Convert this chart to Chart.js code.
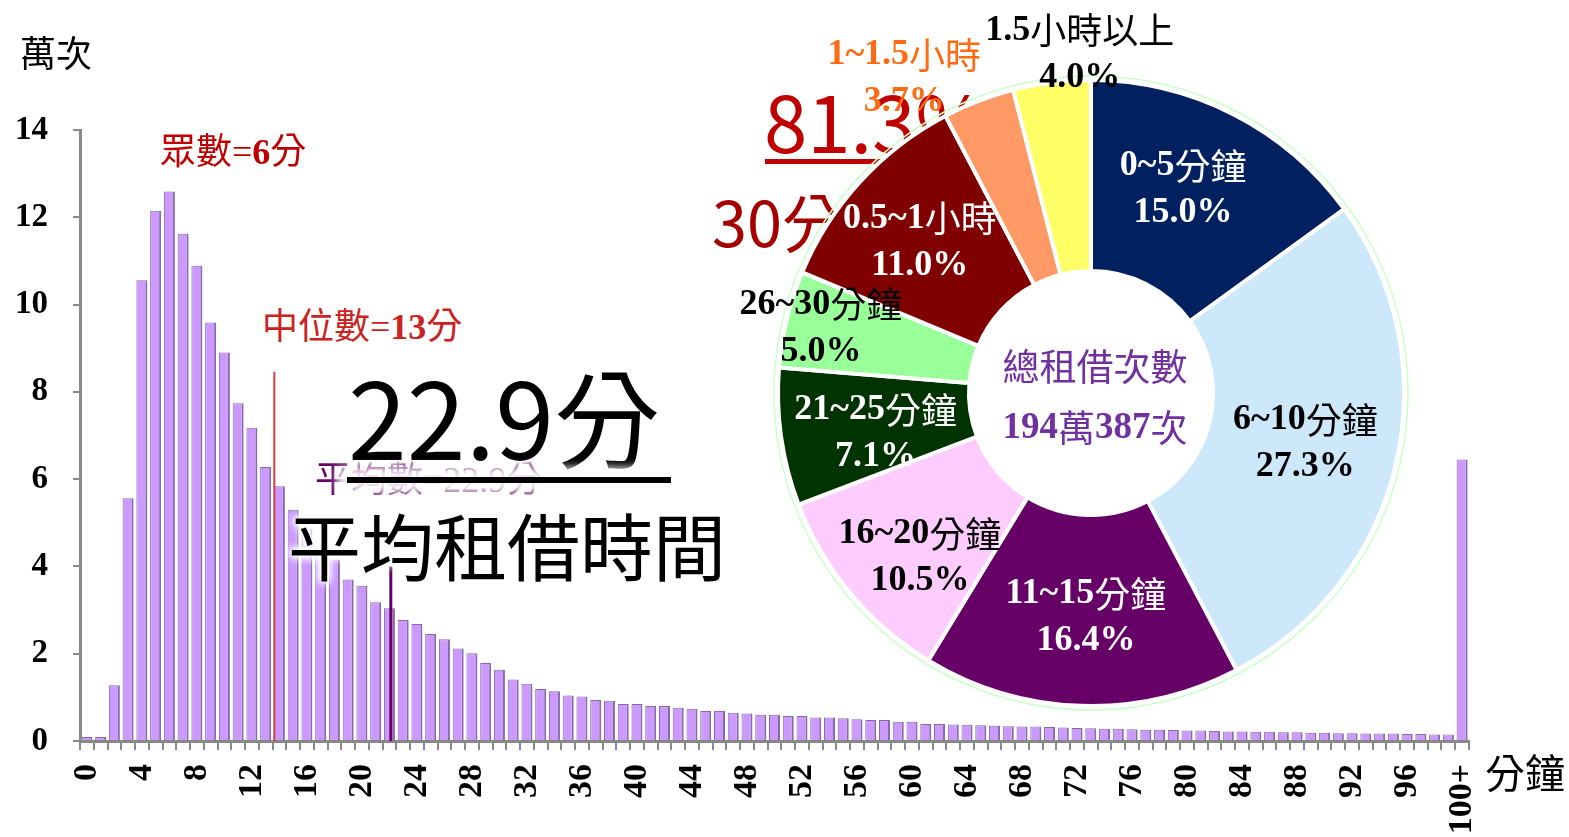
<!DOCTYPE html>
<html lang="zh-Hant">
<head>
<meta charset="UTF-8">
<style>
body {
    margin: 0;
    width: 1569px;
    height: 837px;
    overflow: hidden;
    position: relative;
    background: #fff;
    font-family: "Liberation Serif", "Noto Sans CJK TC", serif;
}
canvas {
    position: absolute;
    left: 0;
    top: 0;
}
#histChart { z-index: 1; }
#pieChart { z-index: 3; }
.txt {
    position: absolute;
    white-space: nowrap;
    line-height: 1;
}
.back { z-index: 2; }
.front { z-index: 4; }
.sans { font-family: "Noto Sans CJK TC", "Noto Sans", sans-serif; }
.glow {
    text-shadow: 0 0 4px #fff, 0 0 6px #fff, 0 0 8px #fff, 0 0 10px #fff, 0 0 12px #fff;
}
</style>
</head>
<body>
<canvas id="histChart" width="1569" height="837"></canvas>

<!-- big red note sits behind the doughnut -->
<div class="txt back sans" style="left:764px; top:80px; font-size:78px; color:#c00000;">81.3%</div>
<div class="txt back" style="left:765px; top:159px; width:200px; height:5px; background:#c00000;"></div>
<div class="txt back sans" style="left:712px; top:188px; font-size:63px; color:#a50000;">30分</div>

<canvas id="pieChart" width="1569" height="837"></canvas>

<div class="txt front" style="left:20px; top:37px; font-size:36px; color:#000;">萬次</div>
<div class="txt front" style="left:1485px; top:755px; font-size:40px; color:#000;">分鐘</div>
<div class="txt front" style="left:160px; top:134px; font-size:36px; color:#c00000;">眾數=<b>6</b>分</div>
<div class="txt front" style="left:258px; top:307px; font-size:36px; color:#cc2222; background:#fff; padding:2px 4px;">中位數=<b>13</b>分</div>
<div class="txt front" style="left:315px; top:462px; font-size:36px; color:#660066;">平均數=22.9分</div>
<div class="txt front sans glow" style="left:348px; top:361px; font-size:106px; color:#000;">22.9分</div>
<div class="txt front" style="left:347px; top:477px; width:324px; height:6px; background:#000; box-shadow:0 0 9px 10px rgba(255,255,255,0.9);"></div>
<div class="txt front sans glow" style="left:288px; top:507px; font-size:73px; color:#000;">平均租借時間</div>

<script src="https://cdn.jsdelivr.net/npm/chart.js"></script>
<script>
// histogram: rentals (10k) per rental length in minutes
const minuteLabels = [
    '0', '1', '2', '3', '4', '5', '6', '7', '8', '9',
    '10', '11', '12', '13', '14', '15', '16', '17', '18', '19',
    '20', '21', '22', '23', '24', '25', '26', '27', '28', '29',
    '30', '31', '32', '33', '34', '35', '36', '37', '38', '39',
    '40', '41', '42', '43', '44', '45', '46', '47', '48', '49',
    '50', '51', '52', '53', '54', '55', '56', '57', '58', '59',
    '60', '61', '62', '63', '64', '65', '66', '67', '68', '69',
    '70', '71', '72', '73', '74', '75', '76', '77', '78', '79',
    '80', '81', '82', '83', '84', '85', '86', '87', '88', '89',
    '90', '91', '92', '93', '94', '95', '96', '97', '98', '99',
    '100+'
];
const rentCounts = [
    0.09, 0.09, 1.28, 5.56, 10.56, 12.15, 12.59, 11.62, 10.89, 9.59,
    8.90, 7.74, 7.18, 6.28, 5.84, 5.30, 4.85, 4.45, 4.16, 3.70,
    3.56, 3.18, 3.04, 2.77, 2.68, 2.45, 2.33, 2.12, 2.01, 1.79,
    1.63, 1.41, 1.31, 1.19, 1.14, 1.04, 1.02, 0.94, 0.92, 0.85,
    0.85, 0.80, 0.80, 0.76, 0.74, 0.69, 0.69, 0.65, 0.63, 0.60,
    0.60, 0.57, 0.57, 0.54, 0.54, 0.52, 0.50, 0.48, 0.48, 0.44,
    0.44, 0.39, 0.39, 0.38, 0.37, 0.36, 0.35, 0.34, 0.33, 0.33,
    0.32, 0.31, 0.30, 0.29, 0.28, 0.28, 0.27, 0.26, 0.26, 0.25,
    0.24, 0.24, 0.23, 0.22, 0.22, 0.21, 0.21, 0.20, 0.20, 0.19,
    0.19, 0.18, 0.18, 0.17, 0.17, 0.17, 0.16, 0.16, 0.15, 0.15,
    6.45
];
const yTicks = [0, 2, 4, 6, 8, 10, 12, 14];

// median / mean marker lines (position on the category axis, top value)
const medianMark = { at: 13.63, top: 8.46 };
const meanMark = { at: 22.1, top: 4.0 };

// doughnut: share of rentals by length
const sliceLabels = ['0~5分鐘', '6~10分鐘', '11~15分鐘', '16~20分鐘', '21~25分鐘', '26~30分鐘', '0.5~1小時', '1~1.5小時', '1.5小時以上'];
const slicePct = [15.0, 27.3, 16.4, 10.5, 7.1, 5.0, 11.0, 3.7, 4.0];
const totalTitle = '總租借次數';
const totalValue = '194萬387次';

const sliceColors = ['#002060', '#cce8fa', '#660066', '#ffccff', '#003300', '#99ff99', '#800000', '#ff9966', '#ffff66'];
const sliceTextColors = ['#fff', '#000', '#fff', '#000', '#fff', '#000', '#fff', '#ff6a13', '#000'];
// label placement: [radius factor of outer radius, angle shift in degrees]
const sliceTextSpot = [[0.715, -2.7], [0.703, 0], [0.716, -0.5], [0.757, -4], [0.70, -2.4], [0.888, 0], [0.73, -1], [1.17, -9.6], [1.086, 5.3]];

const serif = '"Liberation Serif", "Noto Sans CJK TC", serif';
const cjkFont = '"Noto Sans CJK TC", serif';

const markerLines = {
    id: 'markerLines',
    afterDatasetsDraw(chart) {
        const { ctx, scales: { x, y } } = chart;
        const draw = (m, color, width) => {
            const px = x.getPixelForValue(m.at);
            ctx.save();
            ctx.strokeStyle = color;
            ctx.lineWidth = width;
            ctx.beginPath();
            ctx.moveTo(px, y.getPixelForValue(m.top));
            ctx.lineTo(px, y.getPixelForValue(0));
            ctx.stroke();
            ctx.restore();
        };
        draw(medianMark, '#d04040', 2);
        draw(meanMark, '#660066', 3);
    }
};

new Chart(document.getElementById('histChart'), {
    type: 'bar',
    data: {
        labels: minuteLabels,
        datasets: [{
            data: rentCounts,
            backgroundColor: '#cc99ff',
            borderColor: '#866aa6',
            borderWidth: { top: 1, right: 2, left: 1, bottom: 0 },
            barPercentage: 0.8,
            categoryPercentage: 1.0
        }]
    },
    options: {
        responsive: false,
        animation: false,
        layout: { padding: { top: 130, right: 100, left: 0, bottom: 0 } },
        plugins: {
            legend: { display: false },
            tooltip: { enabled: false }
        },
        scales: {
            x: {
                grid: { drawOnChartArea: false, tickLength: 9, color: '#888', lineWidth: 2, offset: true },
                border: { color: '#888', width: 3 },
                ticks: {
                    autoSkip: false,
                    minRotation: 90,
                    maxRotation: 90,
                    padding: 14,
                    color: '#000',
                    font: { family: serif, size: 34, weight: 'bold' },
                    callback: function (value, index) {
                        return index % 4 === 0 ? this.getLabelForValue(value) : '';
                    }
                },
                afterFit: (scale) => { scale.height = 96; }
            },
            y: {
                min: 0,
                max: 14,
                afterBuildTicks: (scale) => { scale.ticks = yTicks.map(v => ({ value: v })); },
                grid: { drawOnChartArea: false, tickLength: 7, color: '#888', lineWidth: 2 },
                border: { color: '#888', width: 3 },
                ticks: {
                    padding: 25,
                    color: '#000',
                    font: { family: serif, size: 33, weight: 'bold' }
                },
                afterFit: (scale) => { scale.width = 80; }
            }
        }
    },
    plugins: [markerLines]
});

// latin parts in bold serif, CJK parts in regular weight, centred on (cx, cy)
function drawMixed(ctx, text, cx, cy, size, latinWeight) {
    const runs = text.match(/[\u3000-\u9fff]+|[^\u3000-\u9fff]+/g) || [];
    const fontFor = (run) => /[\u3000-\u9fff]/.test(run)
        ? (size + 'px ' + cjkFont)
        : (latinWeight + ' ' + size + 'px ' + serif);
    let total = 0;
    runs.forEach(run => { ctx.font = fontFor(run); total += ctx.measureText(run).width; });
    let x = cx - total / 2;
    ctx.textAlign = 'left';
    runs.forEach(run => {
        ctx.font = fontFor(run);
        ctx.fillText(run, x, cy);
        x += ctx.measureText(run).width;
    });
}

const sliceText = {
    id: 'sliceText',
    afterDatasetsDraw(chart) {
        const { ctx } = chart;
        const arcs = chart.getDatasetMeta(0).data;
        ctx.save();
        ctx.textBaseline = 'middle';
        // thin light green ring round the outside
        const a0 = arcs[0];
        ctx.strokeStyle = '#ccffcc';
        ctx.lineWidth = 1.5;
        ctx.beginPath();
        ctx.arc(a0.x, a0.y, a0.outerRadius + 4, 0, Math.PI * 2);
        ctx.stroke();

        arcs.forEach((arc, i) => {
            const [rf, shift] = sliceTextSpot[i];
            const ang = (arc.startAngle + arc.endAngle) / 2 + shift * Math.PI / 180;
            const r = arc.outerRadius * rf;
            const cx = arc.x + r * Math.cos(ang);
            const cy = arc.y + r * Math.sin(ang);
            ctx.fillStyle = sliceTextColors[i];
            drawMixed(ctx, sliceLabels[i], cx, cy - 23, 36, 'bold');
            drawMixed(ctx, slicePct[i].toFixed(1) + '%', cx, cy + 24, 36, 'bold');
        });

        ctx.fillStyle = '#7030a0';
        drawMixed(ctx, totalTitle, a0.x + 4, a0.y - 26, 37, 'normal');
        drawMixed(ctx, totalValue, a0.x + 4, a0.y + 35, 37, 'bold');
        ctx.restore();
    }
};

new Chart(document.getElementById('pieChart'), {
    type: 'doughnut',
    data: {
        labels: sliceLabels,
        datasets: [{
            data: slicePct,
            backgroundColor: sliceColors,
            borderColor: '#fff',
            borderWidth: 4
        }]
    },
    options: {
        responsive: false,
        animation: false,
        cutout: '39%',
        layout: { padding: { left: 776, top: 78, right: 163, bottom: 129 } },
        plugins: {
            legend: { display: false },
            tooltip: { enabled: false }
        }
    },
    plugins: [sliceText]
});
</script>
</body>
</html>
